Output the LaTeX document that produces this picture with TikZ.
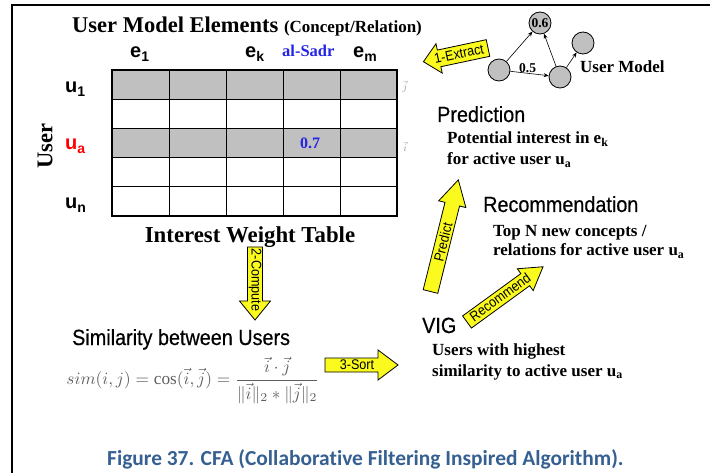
\documentclass[tikz,border=0pt]{standalone}
\usepackage{fontspec}
\setmainfont{Liberation Serif}
\newfontfamily\arialf{Liberation Sans}
\newfontfamily\narrowf[FakeStretch=0.9,FakeBold=0.4]{Liberation Sans}
\newfontfamily\arrowf[FakeStretch=0.9]{Liberation Sans}
\newfontfamily\calib[Ligatures=NoCommon]{Carlito}
\usepackage{graphicx}
\usetikzlibrary{arrows.meta}
\definecolor{tabgray}{RGB}{192,192,192}
\definecolor{ablue}{RGB}{36,36,230}
\definecolor{ared}{RGB}{255,0,0}
\definecolor{ayel}{RGB}{250,250,30}
\definecolor{capblue}{RGB}{54,96,146}
\definecolor{mgray}{RGB}{95,95,95}
\newcommand\fs[1]{\fontsize{#1}{#1}\selectfont}
\newcommand\blockarr[6]{%
  \begin{scope}[shift={#1},rotate=#2]
    \draw[barrowshape] (0,{-#4}) -- ({#3-#6},{-#4}) -- ({#3-#6},{-#5}) -- (#3,0)
      -- ({#3-#6},{#5}) -- ({#3-#6},{#4}) -- (0,{#4}) -- cycle;
  \end{scope}}
\tikzset{
  barrowshape/.style={draw=black, line width=0.8pt, fill=ayel, line join=miter},
  arrtext/.style={font=\arrowf\fs{14}, inner sep=0pt},
  serifb/.style={font=\bfseries\fs{17}, inner sep=0pt, anchor=base west},
  sanshead/.style={font=\narrowf\fs{22}, inner sep=0pt, anchor=base west},
  hdr/.style={font=\arialf\bfseries\fs{20}, inner sep=0pt, anchor=base west},
  umc/.style={circle, draw, line width=0.8pt, fill=tabgray, minimum size=22pt, inner sep=0pt},
  umedge/.style={-{Stealth[length=5pt,width=4pt]}, line width=0.6pt},
  gridthin/.style={line width=1pt},
  gridthick/.style={line width=2.2pt},
}
\begin{document}
\begin{tikzpicture}[x=1pt,y=-1pt]
\useasboundingbox (0,0) rectangle (710,473);
\fill[white] (0,0) rectangle (710,473);
% frame
\draw[line width=2.5pt] (12,473) -- (12,5) -- (710,5);

% title
\node[font=\bfseries, inner sep=0pt, anchor=base west] (title) at (72,33)
  {\fs{22.5}User Model Elements \fs{17}(Concept/Relation)};

% column headers
\node[hdr] (e1) at (130,58) {e\textsubscript{1}};
\node[hdr] (ek) at (245,58) {e\textsubscript{k}};
\node[font=\bfseries\fs{16.5}, text=ablue, inner sep=0pt, anchor=base west] (sadr) at (282,57) {al-Sadr};
\node[hdr] (em) at (353,58) {e\textsubscript{m}};

% row headers
\node[hdr] (u1) at (65,93) {u\textsubscript{1}};
\node[hdr, text=ared] (ua) at (65,150) {u\textsubscript{a}};
\node[hdr] (un) at (65,209) {u\textsubscript{n}};
\node[font=\bfseries\fs{22.5}, rotate=90, inner sep=0pt] (userlbl) at (45,146) {User};

% table
\fill[tabgray] (112,70) rectangle (397,99.2);
\fill[tabgray] (112,128.4) rectangle (397,157.6);
\foreach \xx in {169,226,283,340} \draw[gridthin] (\xx,70) -- (\xx,216);
\foreach \yy in {99.2,128.4,157.6,186.8} \draw[gridthin] (112,\yy) -- (397,\yy);
\draw[gridthick] (112,70) rectangle (397,216);
\node[font=\bfseries\fs{16}, text=ablue, inner sep=0pt] (v07) at (310,143) {0.7};
\node[text=mgray!70, font=\fs{10}, inner sep=0pt] (vj) at (405,87) {$\vec{j}$};
\node[text=mgray!70, font=\fs{10}, inner sep=0pt] (vi) at (405,147) {$\vec{i}$};
\node[font=\bfseries\fs{22.8}, inner sep=0pt, anchor=base] (iwt) at (250,243) {Interest Weight Table};

% 2-Compute
\blockarr{(255,247)}{-90}{73}{7.5}{15.5}{19}
\node[arrtext, rotate=-90] (tcompute) at (255,280) {2-Compute};

% similarity
\node[sanshead] (sim) at (72,345) {Similarity between Users};
\node[text=mgray, inner sep=0pt] (form) at (193,380)
  {\resizebox{253pt}{!}{$\displaystyle sim(i,j)=\cos(\vec{i},\vec{j})=\frac{\vec{i}\cdot\vec{j}}{\|\vec{i}\|_2*\|\vec{j}\|_2}$}};

% 3-Sort
\blockarr{(325,365)}{0}{73}{7}{15}{20}
\node[arrtext] (tsort) at (357,365) {3-Sort};

% VIG
\node[sanshead] (vig) at (422,333) {VIG};
\node[serifb] (vig1) at (432,355) {Users with highest};
\node[serifb] (vig2) at (432,376) {similarity to active user u\textsubscript{a}};

% Predict
\blockarr{(430.5,291.5)}{76}{115}{7.5}{14}{25}
\node[arrtext, rotate=76] (tpredict) at (443,242) {Predict};

% Recommend
\blockarr{(467,322)}{36}{94}{7.5}{13.5}{22}
\node[arrtext, rotate=36] (trec) at (500,297) {Recommend};

% Prediction
\node[sanshead] (pred) at (437,122) {Prediction};
\node[serifb] (pred1) at (447,144) {Potential interest in e\textsubscript{k}};
\node[serifb] (pred2) at (447,165) {for active user u\textsubscript{a}};

% Recommendation
\node[sanshead] (rec) at (483,212) {Recommendation};
\node[serifb] (rec1) at (493,237) {Top N new concepts /};
\node[serifb] (rec2) at (493,256) {relations for active user u\textsubscript{a}};

% 1-Extract
\blockarr{(488,48)}{192}{66}{8.5}{15}{16}
\node[arrtext, rotate=12] (textract) at (459,54) {1-Extract};

% user model graph
\node[umc, font=\bfseries\fs{13.5}] (ca) at (540,23) {0.6};
\node[umc] (cb) at (583,43) {};
\node[umc] (cc) at (499,70) {};
\node[umc] (cd) at (560,77) {};
\draw[umedge] (cc) -- (ca);
\draw[umedge] (cc) -- node[pos=0.45, above, font=\bfseries\fs{13.5}, inner sep=0.5pt] (l05) {0.5} (cd);
\draw[umedge] (cd) -- (ca);
\draw[umedge] (cd) -- (cb);
\node[serifb] (umlbl) at (580,73) {User Model};

% caption
\node[font=\calib\bfseries\fs{21.4}, text=capblue, anchor=base west, inner sep=0pt] (cap) at (107,465)
  {Figure 37. CFA (Collaborative Filtering Inspired Algorithm).};
\end{tikzpicture}
\end{document}
